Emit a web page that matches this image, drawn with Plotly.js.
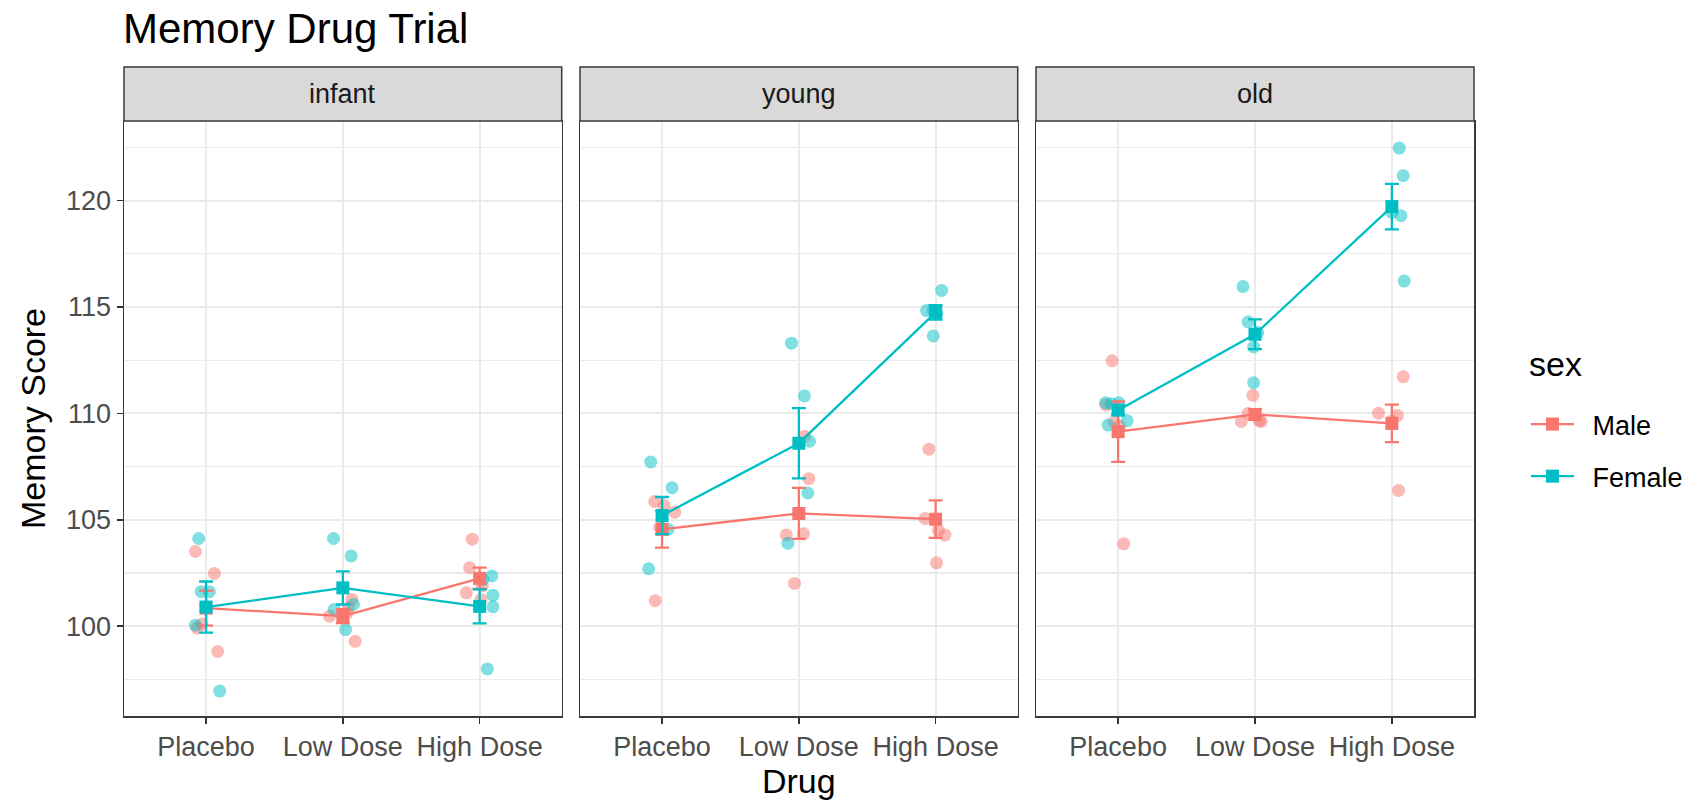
<!DOCTYPE html>
<html>
<head>
<meta charset="utf-8">
<script src="https://cdn.plot.ly/plotly-3.0.1.min.js"></script>
<style>
  html, body { margin: 0; padding: 0; background: #ffffff; }
  #chart { width: 1695px; height: 802px; }
</style>
</head>
<body>
<div id="chart"></div>
<script>
// Facets, categories and groups
const ageGroups = ['infant', 'young', 'old'];
const drugs = ['Placebo', 'Low Dose', 'High Dose'];
const sexes = ['Male', 'Female'];
const legendTitle = 'sex';

// Individual memory scores, five subjects per drug (Placebo, Low Dose, High Dose)
const maleInfant = [103.51, 102.48, 99.92, 98.81, 100.10,
                    100.47, 101.26, 100.60, 100.85, 99.29,
                    104.09, 102.75, 101.57, 101.90, 101.26];
const maleYoung = [105.86, 105.67, 105.36, 104.65, 101.20,
                   108.93, 106.93, 104.29, 104.34, 102.01,
                   108.32, 105.06, 104.28, 102.98, 104.50];
const maleOld = [112.47, 110.40, 109.60, 109.40, 103.87,
                 110.85, 109.62, 109.62, 110.00, 109.66,
                 111.72, 110.01, 109.90, 106.38, 109.64];
const femaleInfant = [104.12, 101.62, 101.62, 100.05, 96.95,
                      104.12, 103.30, 100.79, 101.02, 99.84,
                      102.36, 102.20, 101.46, 100.91, 97.99];
const femaleYoung = [107.72, 106.51, 104.56, 102.70, 104.60,
                     113.30, 110.82, 108.69, 106.26, 103.90,
                     115.78, 114.83, 114.83, 114.70, 113.64];
const femaleOld = [110.50, 110.50, 109.65, 109.45, 110.45,
                   115.96, 114.30, 113.80, 113.12, 111.44,
                   122.47, 121.17, 119.29, 116.22, 119.45];

// Horizontal jitter of each subject, in drug-category units
const jitterMaleInfant = [-0.078, 0.061, -0.066, 0.085, -0.030,
                          -0.097, 0.066, 0.030, 0.040, 0.090,
                          -0.054, -0.073, -0.097, 0.020, 0.010];
const jitterMaleYoung = [-0.054, 0.015, 0.093, -0.017, -0.050,
                         0.041, 0.073, -0.092, 0.034, -0.032,
                         -0.049, -0.078, 0.068, 0.007, 0.020];
const jitterMaleOld = [-0.044, -0.090, -0.030, 0.010, 0.041,
                       -0.015, -0.100, 0.046, -0.050, 0.030,
                       0.083, -0.098, 0.041, 0.049, 0.000];
const jitterFemaleInfant = [-0.054, -0.036, 0.024, -0.078, 0.100,
                            -0.068, 0.061, -0.063, 0.078, 0.020,
                            0.090, 0.024, 0.097, 0.097, 0.056];
const jitterFemaleYoung = [-0.083, 0.073, 0.044, -0.098, 0.000,
                           -0.054, 0.041, 0.078, 0.066, -0.080,
                           0.044, -0.066, -0.017, 0.010, -0.017];
const jitterFemaleOld = [-0.092, 0.005, 0.066, -0.073, -0.050,
                         -0.088, -0.050, 0.020, -0.010, -0.010,
                         0.054, 0.083, 0.066, 0.090, 0.000];

// Group means and standard errors, per age group (rows) and drug (columns)
const meanMale = [[100.85, 100.47, 102.25], [104.55, 105.30, 105.03], [109.14, 109.95, 109.53]];
const seMale = [[0.82, 0.33, 0.50], [0.86, 1.20, 0.88], [1.42, 0.25, 0.88]];
const meanFemale = [[100.90, 101.80, 100.93], [105.20, 108.60, 114.75], [110.15, 113.72, 119.72]];
const seFemale = [[1.20, 0.78, 0.80], [0.87, 1.65, 0.34], [0.22, 0.70, 1.07]];

const scoresBySex = {
  Male: [maleInfant, maleYoung, maleOld],
  Female: [femaleInfant, femaleYoung, femaleOld]
};
const jitterBySex = {
  Male: [jitterMaleInfant, jitterMaleYoung, jitterMaleOld],
  Female: [jitterFemaleInfant, jitterFemaleYoung, jitterFemaleOld]
};
const meansBySex = { Male: meanMale, Female: meanFemale };
const seBySex = { Male: seMale, Female: seFemale };
const colours = { Male: '#F8766D', Female: '#00BFC4' };

const W = 1695, H = 802;
const FONT = 'Liberation Sans, Arial, Helvetica, sans-serif';
// panel pixel extents
const panelX = [[124, 561.7], [580, 1017.7], [1036, 1474]];
const panelTop = 121, panelBottom = 716, stripTop = 67;
const yDomain = [(H - panelBottom) / H, (H - panelTop) / H];

const traces = [];
const layout = {
  width: W, height: H,
  margin: { l: 0, r: 0, t: 0, b: 0 },
  paper_bgcolor: '#ffffff',
  plot_bgcolor: '#ffffff',
  font: { family: FONT, color: '#000000' },
  showlegend: true,
  title: {
    text: 'Memory Drug Trial',
    font: { family: FONT, size: 42, color: '#000000' },
    x: 123 / W, xanchor: 'left', xref: 'container',
    y: 1 - 28 / H, yanchor: 'middle', yref: 'container'
  },
  legend: {
    font: { family: FONT, size: 27, color: '#000000' },
    x: 1526 / W, xanchor: 'left',
    y: 1 - 400 / H, yanchor: 'top',
    bgcolor: 'rgba(0,0,0,0)',
    tracegroupgap: 14,
    itemwidth: 43
  },
  shapes: [],
  annotations: [{
    // legend heading
    xref: 'paper', yref: 'paper',
    x: 1527 / W, y: 1 - 364 / H, xanchor: 'left', yanchor: 'middle',
    showarrow: false, text: legendTitle,
    font: { family: FONT, size: 34, color: '#000000' }
  }]
};

ageGroups.forEach((age, a) => {
  const k = a === 0 ? '' : String(a + 1);
  const xName = 'x' + k, yName = 'y' + k;
  const dom = [panelX[a][0] / W, panelX[a][1] / W];

  layout['xaxis' + k] = {
    domain: dom, anchor: yName,
    range: [0.4, 3.6],
    tickmode: 'array', tickvals: [1, 2, 3], ticktext: drugs,
    showgrid: true, gridcolor: '#EBEBEB', gridwidth: 2,
    zeroline: false,
    showline: true, mirror: true, linecolor: '#3a3a3a', linewidth: 1.5,
    ticks: 'outside', ticklen: 6, tickwidth: 1.6, tickcolor: '#333333',
    tickfont: { family: FONT, size: 27, color: '#4D4D4D' },
    fixedrange: true
  };
  if (a === 1) {
    layout['xaxis' + k].title = { text: 'Drug', font: { family: FONT, size: 34, color: '#000000' }, standoff: 8 };
  }
  layout['yaxis' + k] = {
    domain: yDomain, anchor: xName,
    range: [95.78, 123.74],
    tickmode: 'linear', tick0: 0, dtick: 5,
    showgrid: true, gridcolor: '#EBEBEB', gridwidth: 2,
    minor: { dtick: 2.5, tick0: 0, showgrid: true, gridcolor: '#EBEBEB', gridwidth: 1.1 },
    zeroline: false,
    showline: true, mirror: true, linecolor: '#3a3a3a', linewidth: 1.5,
    ticks: a === 0 ? 'outside' : '', ticklen: 6, tickwidth: 1.6, tickcolor: '#333333',
    showticklabels: a === 0,
    tickfont: { family: FONT, size: 27, color: '#4D4D4D' },
    fixedrange: true
  };
  if (a === 0) {
    layout.yaxis.title = { text: 'Memory Score', font: { family: FONT, size: 34, color: '#000000' }, standoff: 10 };
  }

  // facet strip
  layout.shapes.push({
    type: 'rect', xref: 'paper', yref: 'paper',
    x0: dom[0], x1: dom[1], y0: (H - panelTop) / H, y1: (H - stripTop) / H,
    fillcolor: '#D9D9D9', line: { color: '#3a3a3a', width: 1.5 }, layer: 'above'
  });
  layout.annotations.push({
    xref: 'paper', yref: 'paper',
    x: (dom[0] + dom[1]) / 2, y: (H - (stripTop + panelTop) / 2) / H,
    xanchor: 'center', yanchor: 'middle', showarrow: false,
    text: age, font: { family: FONT, size: 27, color: '#1A1A1A' }
  });

  // individual subjects
  sexes.forEach(sex => {
    const scores = scoresBySex[sex][a];
    const jit = jitterBySex[sex][a];
    traces.push({
      type: 'scatter', mode: 'markers',
      xaxis: xName, yaxis: yName,
      x: scores.map((_, i) => Math.floor(i / 5) + 1 + jit[i]),
      y: scores,
      marker: { color: colours[sex], size: 13, opacity: 0.5, line: { width: 0 } },
      showlegend: false, hoverinfo: 'y', name: sex
    });
  });

  // means with standard-error bars; the legend label keeps a small gap after its key
  sexes.forEach(sex => {
    traces.push({
      type: 'scatter', mode: 'lines+markers',
      xaxis: xName, yaxis: yName,
      x: [1, 2, 3],
      y: meansBySex[sex][a],
      error_y: { type: 'data', array: seBySex[sex][a], visible: true, color: colours[sex], thickness: 2.3, width: 7 },
      line: { color: colours[sex], width: 2.3 },
      marker: { color: colours[sex], symbol: 'square', size: 13 },
      name: '\u2002' + sex, legendgroup: sex,
      showlegend: a === 0
    });
  });
});

Plotly.newPlot('chart', traces, layout, { staticPlot: true, displayModeBar: false });
</script>
</body>
</html>
